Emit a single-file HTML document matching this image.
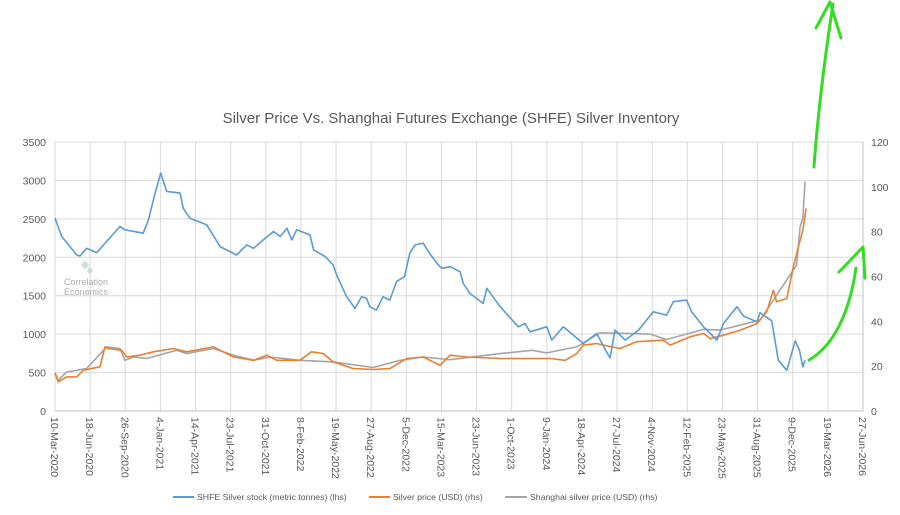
<!DOCTYPE html>
<html><head><meta charset="utf-8"><style>
body{margin:0;background:#fff;}
svg text{font-family:"Liberation Sans",sans-serif;fill:#595959;}
</style></head><body>
<svg id="c" width="900" height="510" viewBox="0 0 900 510" xmlns="http://www.w3.org/2000/svg">
<text x="451" y="123" font-size="15" text-anchor="middle">Silver Price Vs. Shanghai Futures Exchange (SHFE) Silver Inventory</text>
<g id="grid"></g>
<g id="axes"></g>
<g id="series"></g>
<g opacity="0.7">
<rect x="82" y="262" width="6" height="6" fill="#b9d7c2" transform="rotate(45 85 265)"/>
<rect x="88" y="268" width="5" height="5" fill="#b9d7c2" transform="rotate(45 90 270)"/>
<text x="86" y="285" font-size="9" text-anchor="middle" style="fill:#8a8a8a">Correlation</text>
<text x="86" y="295" font-size="9" text-anchor="middle" style="fill:#8a8a8a">Economics</text>
</g>
<g>
<line x1="173" y1="497" x2="194" y2="497" stroke="#5b9bd5" stroke-width="2"/>
<text x="197" y="500" font-size="8.7">SHFE Silver stock (metric tonnes) (lhs)</text>
<line x1="369" y1="497" x2="390" y2="497" stroke="#ed7d31" stroke-width="2"/>
<text x="393" y="500" font-size="8.7">Silver price (USD) (rhs)</text>
<line x1="505" y1="497" x2="527" y2="497" stroke="#a5a5a5" stroke-width="2"/>
<text x="530" y="500" font-size="8.7">Shanghai silver price (USD) (rhs)</text>
</g>
<g fill="none" stroke="#33dd22" stroke-width="3" stroke-linecap="round" stroke-linejoin="round">
<path d="M814,167 C818,110 826,50 833,4"/>
<path d="M816,28 L830,2 L841,38"/>
<path d="M809,360 C835,345 850,310 856,268"/>
<path d="M839,272 L863,247 L865,278"/>
</g>
</svg>
<script>
const tickLabels=["10-Mar-2020","18-Jun-2020","26-Sep-2020","4-Jan-2021","14-Apr-2021","23-Jul-2021","31-Oct-2021","8-Feb-2022","19-May-2022","27-Aug-2022","5-Dec-2022","15-Mar-2023","23-Jun-2023","1-Oct-2023","9-Jan-2024","18-Apr-2024","27-Jul-2024","4-Nov-2024","12-Feb-2025","23-May-2025","31-Aug-2025","9-Dec-2025","19-Mar-2026","27-Jun-2026"];
const leftTicks=[0,500,1000,1500,2000,2500,3000,3500];
const rightTicks=[0,20,40,60,80,100,120];
const stockDays=[0,19,62,71,90,119,138,185,199,251,266,285,301,318,356,365,384,408,432,470,498,517,546,565,593,622,641,660,674,688,726,736,769,792,802,830,854,873,887,896,915,934,953,972,995,1010,1025,1048,1063,1087,1101,1125,1153,1162,1181,1219,1229,1267,1319,1338,1352,1400,1414,1447,1504,1542,1570,1580,1594,1623,1661,1703,1741,1760,1798,1812,1846,1884,1903,1941,1960,1998,2007,2040,2059,2083,2107,2119,2129,2135];
const stockValues=[2509,2270,2030,2017,2117,2061,2161,2400,2357,2313,2487,2835,3096,2857,2835,2639,2509,2465,2422,2139,2074,2030,2161,2117,2226,2335,2270,2378,2226,2357,2291,2096,2009,1900,1770,1487,1335,1487,1465,1357,1313,1487,1443,1683,1748,2052,2161,2183,2074,1922,1857,1878,1813,1661,1530,1400,1596,1357,1096,1139,1030,1096,922,1096,878,1009,770,691,1052,922,1052,1291,1248,1422,1443,1291,1096,922,1139,1357,1235,1161,1278,1174,661,530,913,791,574,661];
const priceDays=[0,9,33,62,81,128,142,152,190,204,242,280,337,375,451,508,565,603,631,697,730,764,792,849,906,953,1001,1048,1096,1125,1172,1267,1409,1452,1485,1504,1542,1561,1608,1656,1732,1751,1808,1846,1865,1903,1951,1998,2026,2045,2054,2083,2102,2116,2129,2138];
const priceValues=[17.0,13.0,15.2,15.2,18.2,19.7,28.6,27.9,27.1,24.1,24.9,26.4,27.9,26.4,28.6,24.1,22.6,24.9,22.6,22.6,26.4,25.6,21.9,18.9,18.5,18.9,23.4,24.1,20.4,24.9,24.1,23.4,23.4,22.6,25.6,29.4,30.1,29.4,27.9,30.9,31.6,29.4,33.1,34.6,32.3,33.8,36.1,39.0,44.3,53.9,48.7,50.2,64.4,73.3,80.8,90.4];
const shDays=[0,9,33,90,147,185,199,223,261,346,375,451,508,565,612,697,792,906,982,1048,1125,1267,1358,1400,1485,1551,1694,1741,1846,1893,2007,2111,2121,2129,2135];
const shValues=[17,13.7,17.4,18.9,28.6,27.9,22.6,24.1,23.4,27.1,25.6,27.9,24.9,22.6,24.1,22.6,21.9,19.4,22.6,24.1,22.9,25.6,27.1,25.9,28.6,34.9,34.3,31.9,36.4,36.1,40.5,65.1,82.2,86.0,102.4];

const L=55,R=863,T=142,B=411,MAXD=2300;
const ns="http://www.w3.org/2000/svg";
const xS=d=>L+d/MAXD*(R-L);
const yL=v=>B-v/3500*(B-T);
const yR=v=>B-v/120*(B-T);
function mk(tag,attrs,parent){const e=document.createElementNS(ns,tag);for(const k in attrs)e.setAttribute(k,attrs[k]);parent.appendChild(e);return e;}
const grid=document.getElementById('grid'),axes=document.getElementById('axes'),ser=document.getElementById('series');
leftTicks.forEach(v=>{
  const y=yL(v);
  const g=mk('line',{x1:L,x2:R,y1:y,y2:y,stroke:'#d9d9d9','stroke-width':1},grid);
  
  
  const t=mk('text',{x:L-9,y:y+4,'font-size':'10.5','text-anchor':'end'},axes);
  t.textContent=v;
  
  
});
rightTicks.forEach(v=>{
  const y=yR(v);
  const t=mk('text',{x:R+8,y:y+4,'font-size':'10.5'},axes);
  t.textContent=v;
  
  
});
tickLabels.forEach((s,i)=>{
  const x=xS(i*100);
  const g=mk('line',{x1:x,x2:x,y1:T,y2:B,stroke:'#d9d9d9','stroke-width':1},grid);
  
  
  const t=mk('text',{x:0,y:0,'font-size':'10.5',transform:`translate(${x-4},${B+6}) rotate(90)`},axes);
  t.textContent=s;
  
  
});
const ax=mk('line',{x1:L,x2:R,y1:B,y2:B,stroke:'#bfbfbf'},axes);


const ar=mk('line',{x1:R,x2:R,y1:T,y2:B,stroke:'#bfbfbf'},axes);


function line(days,vals,ys,color,name){
  const p=mk('polyline',{points:days.map((d,i)=>xS(d).toFixed(1)+','+ys(vals[i]).toFixed(1)).join(' '),fill:'none',stroke:color,'stroke-width':1.6,'stroke-linejoin':'round'},ser);
  
  
}
line(shDays,shValues,yR,'#a5a5a5','shanghai-price-line');
line(priceDays,priceValues,yR,'#ed7d31','silver-price-line');
line(stockDays,stockValues,yL,'#5b9bd5','shfe-stock-line');
</script>
</body></html>
